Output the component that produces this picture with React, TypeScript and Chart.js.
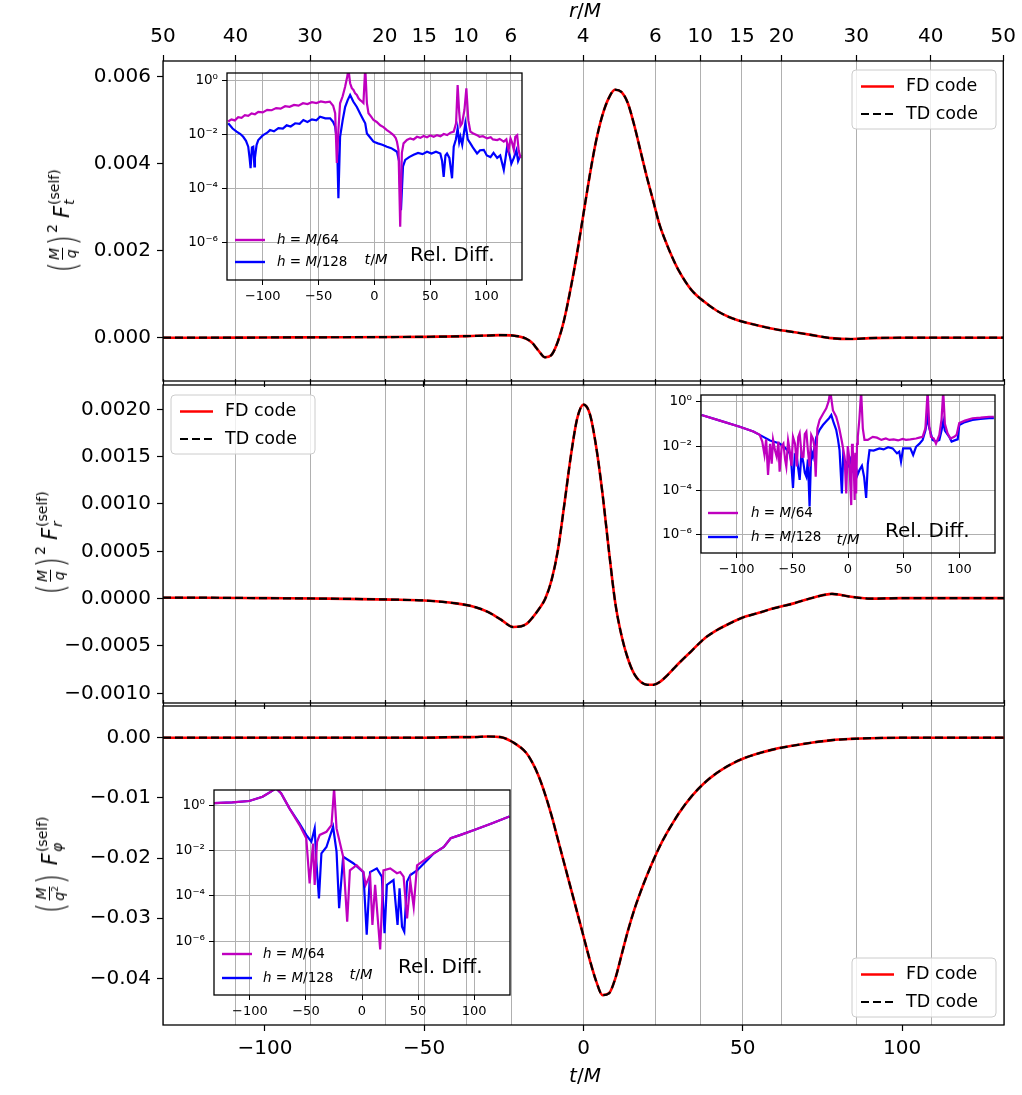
import React, { useEffect, useRef } from "react";
import { Chart, registerables } from "chart.js";

Chart.register(...registerables);

const FONT = "'DejaVu Sans', 'Liberation Sans', sans-serif";
const W = 1022;
const H = 1095;

// ---------------- main panels data (t/M) ----------------
const tMain = [-132, -120, -100, -80, -60, -50, -40, -35, -30, -26, -22, -18, -16, -14, -12, -10, -8, -6, -4, -2, 0, 2, 4, 6, 8, 10, 12, 14, 16, 18, 20, 22, 24, 26, 28, 30, 34, 38, 42, 46, 50, 55, 60, 66, 72, 78, 84, 90, 100, 110, 120, 132];
const ftSelf = [0, 0, 0.000005, 0.00001, 0.000015, 0.00002, 0.00003, 0.00004, 0.00005, 0.00006, 0.00005, -0.00002, -0.00012, -0.0003, -0.00045, -0.0004, -0.0001, 0.0004, 0.0011, 0.0019, 0.0028, 0.0037, 0.0045, 0.0051, 0.0055, 0.0057, 0.00565, 0.0054, 0.0049, 0.0043, 0.0037, 0.00315, 0.0026, 0.0022, 0.00185, 0.00155, 0.0011, 0.00083, 0.00062, 0.00047, 0.00037, 0.00028, 0.0002, 0.00013, 0.00006, -0.00001, -0.00003, -0.00001, 0, 0, 0, 0];
const frSelf = [0.00001, 0.00001, 0.000005, 0, -0.00001, -0.00002, -0.00005, -0.00008, -0.00014, -0.00022, -0.0003, -0.00027, -0.0002, -0.00011, 0, 0.0002, 0.00052, 0.001, 0.0015, 0.0019, 0.00205, 0.00195, 0.0016, 0.0011, 0.0005, -0.00005, -0.0004, -0.00064, -0.0008, -0.00088, -0.00091, -0.00091, -0.00088, -0.00082, -0.00075, -0.00068, -0.00055, -0.00042, -0.00033, -0.00026, -0.0002, -0.00015, -0.0001, -0.00005, 0.00001, 0.00005, 0.00002, 0, 0.000005, 0.000005, 0.000005, 0.000005];
const fphiSelf = [0, 0, 0, 0, 0, 0, 0.0001, 0.0001, 0.0002, 0.0001, -0.0008, -0.0025, -0.0042, -0.0065, -0.0095, -0.013, -0.017, -0.021, -0.025, -0.029, -0.033, -0.037, -0.0405, -0.0428, -0.0425, -0.04, -0.036, -0.032, -0.0285, -0.0255, -0.0228, -0.0203, -0.018, -0.016, -0.0142, -0.0125, -0.0097, -0.0075, -0.0058, -0.0045, -0.0035, -0.0026, -0.0019, -0.0013, -0.0008, -0.0004, -0.0002, -0.00008, 0, 0, 0, 0];

// ticks
const tTickValues = [-100, -50, 0, 50, 100];
const rTickPositions = [-132, -109.2, -85.8, -62.3, -49.9, -36.8, -22.7, 0, 22.7, 36.8, 49.9, 62.3, 85.8, 109.2, 132];
const rTickLabels = ["50", "40", "30", "20", "15", "10", "6", "4", "6", "10", "15", "20", "30", "40", "50"];
const ftTicks = [0, 0.002, 0.004, 0.006];
const frTicks = [-0.001, -0.0005, 0, 0.0005, 0.001, 0.0015, 0.002];
const fphiTicks = [-0.04, -0.03, -0.02, -0.01, 0];
const logTicks = [1e-6, 1e-4, 1e-2, 1];
const logTickLabels = ["10\u207B\u2076", "10\u207B\u2074", "10\u207B\u00B2", "10\u2070"];

// ---------------- inset data (relative differences) ----------------
const topT64 = [
  -131, -128, -125, -122, -119, -116, -113, -110, -107, -104, -100, -96, -92, -88, -84, -80, -76, -72, -68, -64,
  -60, -56, -52, -48, -44, -40, -37, -35.2, -33.7, -32.3, -30.8, -28.5, -26.3, -24.5, -23.3, -21.8, -20.3, -18.8, -17.3, -15.8,
  -14.3, -12.8, -11.3, -9.9, -8.3, -6.8, -5.4, -3, -0.9, 2, 5.1, 8, 11.1, 14, 17, 19, 20.1, 21.5, 23, 24.5,
  26, 29, 32, 35, 38, 41, 44, 47, 50, 53, 56, 59, 62, 65, 68, 70.9, 73, 74.4, 75.8, 76.9,
  78.4, 80.5, 82.2, 84, 85.8, 88, 91.8, 94, 97, 100.8, 104, 106, 109.8, 112, 115.7, 118, 120, 121.7, 123, 124.7,
  126, 127.7, 129, 130.7,
];
const topRel64 = [
  0.029, 0.035, 0.032, 0.042, 0.04, 0.05, 0.047, 0.058, 0.054, 0.066, 0.063, 0.079, 0.076, 0.091, 0.087, 0.107, 0.102, 0.12, 0.112, 0.138,
  0.129, 0.151, 0.141, 0.162, 0.148, 0.158, 0.112, 0.059, 8.5e-4, 0.014, 0.138, 0.25, 0.56, 1.26, 2.5, 0.76, 0.5, 0.43, 0.32, 0.28,
  0.21, 0.18, 0.16, 0.14, 3, 0.14, 0.059, 0.044, 0.033, 0.028, 0.021, 0.018, 0.014, 0.0115, 0.0091, 0.0071, 0.0052, 0.0025, 3.7e-6, 0.002,
  0.0045, 0.006, 0.0069, 0.0063, 0.0079, 0.0072, 0.0085, 0.0076, 0.0089, 0.0079, 0.0091, 0.0083, 0.01, 0.0091, 0.0112, 0.0123, 0.025, 0.65, 0.063, 0.02,
  0.025, 0.079, 0.49, 0.032, 0.0123, 0.0107, 0.0091, 0.0079, 0.0083, 0.0069, 0.0076, 0.0063, 0.006, 0.0066, 0.0052, 0.0063, 0.0025, 0.0069, 0.005, 0.0026,
  0.0079, 0.0091, 0.0025, 0.0013,
];
const topT128 = [
  -130.9, -127, -123.4, -120, -117.5, -115, -113, -111.8, -110.9, -109.7, -108.5, -107.5, -107, -105.5, -104, -100, -96, -93.5, -90, -86,
  -82, -78.6, -75, -71, -67, -63.7, -60, -56, -52, -48.7, -44, -39.7, -37, -35.2, -33.5, -32.3, -30.8, -28.5, -26.3, -24,
  -21.8, -19, -15.8, -12.8, -9.9, -8.3, -6.8, -3.5, -0.9, 3, 7, 11.1, 15, 18, 20.1, 22, 23.7, 25.5, 27.5, 31,
  35, 39, 43, 47, 51, 55, 58.9, 60.5, 61.9, 63.5, 64.9, 67, 69.4, 70.9, 72.8, 74.4, 75.8, 76.9, 78.5, 81.3,
  83.5, 85.8, 88, 91.8, 94.5, 97.8, 100.5, 103.8, 106.5, 109.8, 112.5, 115.7, 117.3, 118.7, 121, 122.5, 124.7, 127, 128.5, 130.7,
];
const topRel128 = [
  0.025, 0.016, 0.0123, 0.01, 0.0079, 0.0056, 0.0034, 0.0013, 5.4e-4, 0.0032, 0.0034, 6.3e-4, 0.0013, 0.004, 0.006, 0.0089, 0.0112, 0.014, 0.0126, 0.0166,
  0.0158, 0.021, 0.019, 0.025, 0.024, 0.033, 0.028, 0.035, 0.032, 0.044, 0.038, 0.038, 0.028, 0.019, 0.005, 4.2e-5, 0.0079, 0.032, 0.1, 0.18,
  0.28, 0.16, 0.1, 0.056, 0.033, 0.025, 0.0105, 0.0071, 0.0052, 0.0045, 0.004, 0.0034, 0.003, 0.0025, 0.0022, 0.001, 1.5e-5, 6.3e-4, 0.0011, 0.0014,
  0.0017, 0.002, 0.0018, 0.0022, 0.0019, 0.0022, 0.0019, 0.001, 2.6e-4, 0.0016, 0.0019, 0.0013, 2.3e-4, 0.0034, 0.0063, 0.016, 0.005, 0.0079, 0.004, 0.025,
  0.0063, 0.0045, 0.0032, 0.0019, 0.0025, 0.0026, 0.0016, 0.0014, 0.002, 0.0013, 0.0016, 4.7e-4, 0.0013, 0.0034, 0.0016, 8e-4, 0.0013, 0.0025, 0.001, 0.0017,
];

const midT64 = [
  -131.5, -115, -97.2, -85, -79.3, -77, -75, -73.5, -71.8, -70, -68.5, -67.3, -65.5, -64, -62.5, -61.4, -59.5, -58, -56.5, -55.4,
  -53.8, -52.4, -50.8, -49.4, -47.5, -46, -44.7, -43.4, -41.5, -40, -38.8, -37.4, -36, -34.5, -33, -31.5, -30.2, -29, -27.5, -25.5,
  -22.5, -19.5, -17.5, -15.9, -13.5, -10.6, -9, -7.6, -5.5, -3.1, -1.6, -0.2, 1, 2, 2.9, 3.6, 4.3, 5.2, 6, 6.6,
  7.3, 8.1, 8.8, 10.2, 11.8, 13.3, 14.8, 17.8, 22.2, 26, 30, 34, 37.2, 41, 45, 49, 52.1, 56, 61.1, 64,
  67, 69.5, 71.5, 73, 74.5, 77, 79, 82, 84, 85.5, 87, 89.4, 92, 95.4, 97.5, 99.9, 105, 111.8, 119, 126.7,
  131,
];
const midRel64 = [
  0.25, 0.14, 0.074, 0.045, 0.032, 0.016, 0.004, 0.02, 5e-4, 0.0126, 0.0016, 0.019, 0.0063, 0.0033, 0.016, 7e-4, 0.01, 0.013, 0.0025, 0.0012,
  0.018, 0.0066, 0.0013, 0.026, 0.0126, 0.0012, 0.025, 0.038, 0.0032, 0.0033, 0.035, 0.045, 0.0063, 0.0012, 0.032, 0.022, 0.01, 4.2e-4, 0.063, 0.15,
  0.28, 0.5, 1, 3, 0.4, 0.21, 0.11, 0.054, 0.016, 0.0033, 7.4e-5, 0.01, 0.0033, 2.5e-4, 2.2e-5, 0.0126, 0.0066, 0.001, 3.7e-5, 0.005,
  7.4e-5, 0.0126, 0.026, 0.16, 3, 0.063, 0.019, 0.019, 0.026, 0.024, 0.019, 0.022, 0.019, 0.02, 0.018, 0.021, 0.019, 0.02, 0.022, 0.024,
  0.026, 0.063, 3, 0.079, 0.026, 0.022, 0.013, 0.032, 0.16, 3, 0.1, 0.038, 0.022, 0.026, 0.032, 0.11, 0.14, 0.18, 0.19, 0.21,
  0.21,
];
const midT128 = [
  -131.5, -115, -97.2, -85, -79.3, -70, -61.4, -56, -52.4, -51, -49.4, -47.8, -46, -44.7, -43.4, -41.8, -40, -38.8, -37.4, -36,
  -34.5, -33, -31.5, -28.5, -25.5, -22.5, -19.5, -17, -15, -12.8, -10.6, -9, -7.6, -5.5, -4.3, -3.1, 0, 2, 4.3, 6.5,
  8.5, 10.3, 12.5, 14.5, 16.3, 17.8, 19.3, 23, 28.2, 32, 36, 40.1, 44, 46, 47.6, 49.5, 52.1, 56, 58.5, 61.1,
  64, 67, 69.5, 71.5, 73, 76, 79, 82, 84, 85.5, 87, 90.9, 93, 96.9, 98.5, 99.9, 105, 111.8, 119, 126.7,
  131,
];
const midRel128 = [
  0.25, 0.14, 0.074, 0.045, 0.032, 0.018, 0.013, 0.0079, 0.0047, 0.002, 1.3e-4, 0.004, 0.0033, 0.001, 3e-4, 0.005, 0.0017, 6.3e-4, 4.2e-4, 0.0025,
  1.9e-5, 0.0063, 0.0033, 0.025, 0.054, 0.089, 0.13, 0.18, 0.25, 0.11, 0.054, 0.02, 0.0066, 7.4e-5, 0.004, 0.0024, 0.0013, 0.0025, 8.4e-4, 0.0016,
  5e-4, 8.4e-4, 0.0013, 4e-4, 4.6e-5, 0.0016, 0.0066, 0.0063, 0.0079, 0.0071, 0.0089, 0.0079, 0.0047, 0.0056, 0.002, 0.0079, 0.0079, 0.0079, 0.004, 0.0093,
  0.0126, 0.019, 0.05, 0.21, 0.063, 0.019, 0.016, 0.019, 0.05, 0.13, 0.05, 0.026, 0.016, 0.019, 0.02, 0.089, 0.12, 0.15, 0.166, 0.18,
  0.18,
];

const botT64 = [-132, -115.6, -100.6, -88.7, -81.2, -76.7, -72.2, -64.7, -55.7, -49.7, -46.7, -43.7, -42.2, -40.1, -37.7, -31.7, -27.2, -24.9, -22.7, -16.8, -13.2, -10.8, -4.8, 1.2, 3.3, 7.2, 9.3, 11.7, 16.2, 19.1, 25.2, 31.2, 34.1, 37.1, 40.2, 43.1, 46.1, 49.1, 58.1, 64.1, 73, 79.1, 88, 100, 115, 131.4];
const botRel64 = [1.2, 1.3, 1.5, 2.3, 3.9, 5.5, 3.3, 7.1e-1, 1.3e-1, 3.4e-2, 3.5e-4, 2e-2, 3e-4, 2.4e-2, 4.8e-2, 6.6e-2, 1.3e-1, 5.5, 9.3e-2, 5.2e-3, 7.1e-6, 1.3e-3, 2.2e-3, 1.1e-3, 3e-4, 8.1e-4, 5.1e-6, 3e-4, 4.3e-7, 1.3e-3, 1.6e-3, 9.8e-4, 1.1e-3, 6.9e-4, 1e-5, 4.2e-4, 3.2e-5, 2.2e-3, 4.5e-3, 7.4e-3, 1.4e-2, 3.4e-2, 4.8e-2, 7.9e-2, 1.5e-1, 3.1e-1];
const botT128 = [-132, -115.6, -100.6, -88.7, -81.2, -76.7, -72.2, -64.7, -55.7, -49.7, -45.2, -42.2, -40.7, -38.4, -36.2, -31.7, -25.8, -22.7, -20.4, -16.8, -7.8, 1.2, 4.2, 7.2, 13.2, 17.7, 20.1, 22.2, 28.1, 31.7, 33.5, 35.7, 37.7, 40.2, 43.1, 49.1, 58.1, 64.1, 73, 79.1, 88, 100, 115, 131.4];
const botRel128 = [1.2, 1.3, 1.5, 2.3, 3.9, 5.5, 3.3, 7.1e-1, 1.5e-1, 4.8e-2, 2.4e-2, 9.3e-2, 3.2e-3, 7.6e-5, 7.4e-3, 1.4e-2, 1.1e-1, 8.7e-3, 2.8e-5, 5.2e-3, 2.7e-3, 1.1e-3, 1.9e-6, 1.1e-3, 1.6e-3, 6.9e-4, 2.2e-6, 3e-4, 4.9e-4, 5.1e-6, 2.1e-4, 4.3e-6, 2.6e-6, 4.2e-4, 8.1e-4, 1.3e-3, 3.7e-3, 7.4e-3, 1.4e-2, 3.4e-2, 4.8e-2, 7.9e-2, 1.5e-1, 3.1e-1];

// ---------------- helpers ----------------
const xy = (xs: number[], ys: number[]) => xs.map((x, i) => ({ x, y: ys[i] }));
const fmtT = (v: number) => (v < 0 ? "\u2212" + Math.abs(v) : String(v));
const fmtFixed = (d: number) => (v: number) => {
  if (Math.abs(v) < 1e-12) return (0).toFixed(d);
  return (v < 0 ? "\u2212" : "") + Math.abs(v).toFixed(d);
};

type Seg = [string, boolean];
function drawSegs(ctx: CanvasRenderingContext2D, segs: Seg[], x: number, y: number, size: number, align: "left" | "center" = "left") {
  const fontOf = (it: boolean) => `${it ? "italic " : ""}${size}px ${FONT}`;
  const widths = segs.map(([s, it]) => {
    ctx.font = fontOf(it);
    return ctx.measureText(s).width;
  });
  const total = widths.reduce((a, b) => a + b, 0);
  let cx = align === "center" ? x - total / 2 : x;
  ctx.textAlign = "left";
  ctx.textBaseline = "middle";
  ctx.fillStyle = "#000";
  segs.forEach(([s, it], i) => {
    ctx.font = fontOf(it);
    ctx.fillText(s, cx, y);
    cx += widths[i];
  });
}

function drawFrame(chart: any) {
  const { ctx, chartArea: a } = chart;
  ctx.save();
  ctx.strokeStyle = "#000";
  ctx.lineWidth = 1.3;
  ctx.strokeRect(a.left, a.top, a.right - a.left, a.bottom - a.top);
  ctx.restore();
}

function drawMainLegend(ctx: CanvasRenderingContext2D, x: number, y: number) {
  const w = 144, h = 59;
  ctx.save();
  ctx.beginPath();
  (ctx as any).roundRect(x, y, w, h, 4);
  ctx.fillStyle = "rgba(255,255,255,0.8)";
  ctx.fill();
  ctx.strokeStyle = "#cccccc";
  ctx.lineWidth = 1;
  ctx.stroke();
  const r1 = y + 16.5, r2 = y + 44;
  ctx.lineWidth = 2.5;
  ctx.strokeStyle = "#ff0000";
  ctx.beginPath(); ctx.moveTo(x + 9, r1); ctx.lineTo(x + 42, r1); ctx.stroke();
  ctx.strokeStyle = "#000";
  ctx.lineWidth = 2.2;
  ctx.setLineDash([8, 4]);
  ctx.beginPath(); ctx.moveTo(x + 9, r2); ctx.lineTo(x + 42, r2); ctx.stroke();
  ctx.setLineDash([]);
  ctx.fillStyle = "#000";
  ctx.font = `17.5px ${FONT}`;
  ctx.textBaseline = "middle";
  ctx.textAlign = "left";
  ctx.fillText("FD code", x + 54, r1);
  ctx.fillText("TD code", x + 54, r2);
  ctx.restore();
}

const panels = [
  { values: ftSelf, top: 61, bottom: 381, ymin: -0.000995, ymax: 0.00636, ticks: ftTicks, dec: 3, showR: true, showT: false, legend: { x: 852, y: 70 } },
  { values: frSelf, top: 385, bottom: 703, ymin: -0.0011025, ymax: 0.002257, ticks: frTicks, dec: 4, showR: false, showT: false, legend: { x: 171, y: 395 } },
  { values: fphiSelf, top: 706, bottom: 1025, ymin: -0.04776, ymax: 0.00527, ticks: fphiTicks, dec: 2, showR: false, showT: true, legend: { x: 852, y: 958 } },
];

const PLOT_LEFT = 163;
const PLOT_RIGHT = 1004;

function mainConfig(p: any, idx: number): any {
  const tickFont = { family: FONT, size: 20 };
  return {
    type: "line",
    data: {
      datasets: [
        { label: "TD code", data: xy(tMain, p.values), xAxisID: "x", yAxisID: "y", borderColor: "#000000", borderWidth: 2.2, borderDash: [8, 4], pointRadius: 0, cubicInterpolationMode: "monotone", fill: false },
        { label: "FD code", data: xy(tMain, p.values), xAxisID: "x", yAxisID: "y", borderColor: "#ff0000", borderWidth: 2.6, pointRadius: 0, cubicInterpolationMode: "monotone", fill: false },
      ],
    },
    options: {
      responsive: false,
      animation: false,
      events: [],
      layout: { padding: { left: 0, right: W - PLOT_RIGHT, top: 0, bottom: 0 } },
      plugins: { legend: { display: false }, tooltip: { enabled: false } },
      scales: {
        x: {
          type: "linear", position: "bottom", min: -132, max: 132,
          afterFit: (s: any) => { s.height = H - p.bottom; },
          afterBuildTicks: (s: any) => { s.ticks = tTickValues.map((v) => ({ value: v })); },
          grid: { drawOnChartArea: false, drawTicks: true, tickLength: 6, tickColor: "#000", tickWidth: 1.2 },
          border: { display: false },
          ticks: { display: p.showT, autoSkip: false, maxRotation: 0, minRotation: 0, padding: 6, color: "#000", font: tickFont, callback: (v: number) => fmtT(v) },
        },
        xr: {
          type: "linear", position: "top", min: -132, max: 132,
          afterFit: (s: any) => { s.height = p.top; },
          afterBuildTicks: (s: any) => { s.ticks = rTickPositions.map((v) => ({ value: v })); },
          grid: { drawOnChartArea: true, color: "#b0b0b0", lineWidth: 1, drawTicks: true, tickLength: 6, tickColor: "#000", tickWidth: 1.2 },
          border: { display: false },
          ticks: { display: p.showR, autoSkip: false, maxRotation: 0, minRotation: 0, padding: 6, color: "#000", font: tickFont, callback: (_v: number, i: number) => rTickLabels[i] ?? "" },
        },
        y: {
          type: "linear", position: "left", min: p.ymin, max: p.ymax,
          afterFit: (s: any) => { s.width = PLOT_LEFT; },
          afterBuildTicks: (s: any) => { s.ticks = p.ticks.map((v: number) => ({ value: v })); },
          grid: { drawOnChartArea: false, drawTicks: true, tickLength: 6, tickColor: "#000", tickWidth: 1.2 },
          border: { display: false },
          ticks: { autoSkip: false, padding: 6, color: "#000", font: tickFont, callback: fmtFixed(p.dec) },
        },
      },
    },
    plugins: [
      {
        id: "deco" + idx,
        afterDraw: (chart: any) => {
          drawFrame(chart);
          const ctx = chart.ctx;
          drawMainLegend(ctx, p.legend.x, p.legend.y);
          if (p.showR) {
            ctx.save();
            drawSegs(ctx, [["r", true], ["/", false], ["M", true]], 585, 12, 20, "center");
            ctx.restore();
          }
          if (p.showT) {
            ctx.save();
            drawSegs(ctx, [["t", true], ["/", false], ["M", true]], 585, 1077, 20, "center");
            ctx.restore();
          }
        },
      },
    ],
  };
}

const insets = [
  { t64: topT64, v64: topRel64, t128: topT128, v128: topRel128, frame: { l: 227, t: 73, r: 522, b: 280 }, ymin: 3.92e-8, ymax: 1.82, legend: { hx: 235, ry1: 240, ry2: 262, tx: 277 }, tm: { x: 376, y: 260 }, rd: { x: 410, y: 256 } },
  { t64: midT64, v64: midRel64, t128: midT128, v128: midRel128, frame: { l: 701, t: 395, r: 995, b: 553 }, ymin: 1.53e-7, ymax: 2.0, legend: { hx: 708, ry1: 513, ry2: 537, tx: 751 }, tm: { x: 848, y: 540 }, rd: { x: 885, y: 532 } },
  { t64: botT64, v64: botRel64, t128: botT128, v128: botRel128, frame: { l: 214, t: 790, r: 510, b: 995 }, ymin: 4.16e-9, ymax: 4.59, legend: { hx: 222, ry1: 954, ry2: 978, tx: 263 }, tm: { x: 361, y: 975 }, rd: { x: 398, y: 968 } },
];

function insetConfig(s: any, idx: number): any {
  const f = s.frame;
  const tickFont = { family: FONT, size: 13 };
  const grid = { drawOnChartArea: true, color: "#b0b0b0", lineWidth: 1, drawTicks: true, tickLength: 5, tickColor: "#000", tickWidth: 1 };
  return {
    type: "line",
    data: {
      datasets: [
        { label: "h = M/64", data: xy(s.t64, s.v64), borderColor: "#bf00bf", borderWidth: 2.2, pointRadius: 0, tension: 0, fill: false },
        { label: "h = M/128", data: xy(s.t128, s.v128), borderColor: "#0000ff", borderWidth: 2.2, pointRadius: 0, tension: 0, fill: false },
      ],
    },
    options: {
      responsive: false,
      animation: false,
      events: [],
      layout: { padding: { left: 0, top: f.t, right: W - f.r, bottom: 0 } },
      plugins: { legend: { display: false }, tooltip: { enabled: false } },
      scales: {
        x: {
          type: "linear", position: "bottom", min: -132, max: 132,
          afterFit: (sc: any) => { sc.height = H - f.b; },
          afterBuildTicks: (sc: any) => { sc.ticks = tTickValues.map((v) => ({ value: v })); },
          grid, border: { display: false },
          ticks: { autoSkip: false, maxRotation: 0, minRotation: 0, padding: 4, color: "#000", font: tickFont, callback: (v: number) => fmtT(v) },
        },
        y: {
          type: "logarithmic", position: "left", min: s.ymin, max: s.ymax,
          afterFit: (sc: any) => { sc.width = f.l; },
          afterBuildTicks: (sc: any) => { sc.ticks = logTicks.map((v) => ({ value: v })); },
          grid, border: { display: false },
          ticks: { autoSkip: false, padding: 4, color: "#000", font: { family: FONT, size: 13.5 }, callback: (_v: number, i: number) => logTickLabels[i] ?? "" },
        },
      },
    },
    plugins: [
      {
        id: "insetdeco" + idx,
        afterDraw: (chart: any) => {
          drawFrame(chart);
          const ctx: CanvasRenderingContext2D = chart.ctx;
          const L = s.legend;
          ctx.save();
          ctx.lineWidth = 2.4;
          ctx.strokeStyle = "#bf00bf";
          ctx.beginPath(); ctx.moveTo(L.hx, L.ry1); ctx.lineTo(L.hx + 30, L.ry1); ctx.stroke();
          ctx.strokeStyle = "#0000ff";
          ctx.beginPath(); ctx.moveTo(L.hx, L.ry2); ctx.lineTo(L.hx + 30, L.ry2); ctx.stroke();
          drawSegs(ctx, [["h", true], [" = ", false], ["M", true], ["/64", false]], L.tx, L.ry1, 13.5);
          drawSegs(ctx, [["h", true], [" = ", false], ["M", true], ["/128", false]], L.tx, L.ry2, 13.5);
          drawSegs(ctx, [["t", true], ["/", false], ["M", true]], s.tm.x, s.tm.y, 14.5, "center");
          drawSegs(ctx, [["Rel. Diff.", false]], s.rd.x, s.rd.y, 20);
          ctx.restore();
        },
      },
    ],
  };
}

function ChartLayer({ make }: { make: () => any }) {
  const ref = useRef<HTMLCanvasElement>(null);
  useEffect(() => {
    const chart = new Chart(ref.current as HTMLCanvasElement, make());
    return () => chart.destroy();
  }, []);
  return <canvas ref={ref} width={W} height={H} style={{ position: "absolute", left: 0, top: 0, width: W, height: H }} />;
}

function YTitle({ x, y, sub, q2 }: { x: number; y: number; sub: string; q2?: boolean }) {
  const paren: React.CSSProperties = { fontSize: 38, lineHeight: "40px", fontWeight: 300, display: "inline-block", transform: "scaleX(0.7)" };
  return (
    <div
      style={{
        position: "absolute", left: x, top: y, transform: "translate(-50%, -50%) rotate(-90deg)",
        display: "flex", alignItems: "center", whiteSpace: "nowrap", fontFamily: FONT, fontSize: 20, color: "#000", lineHeight: 1,
      }}
    >
      <span style={paren}>(</span>
      <span style={{ display: "inline-flex", flexDirection: "column", alignItems: "center", fontSize: 14 }}>
        <span style={{ fontStyle: "italic", paddingBottom: 1 }}>M</span>
        <span style={{ borderTop: "1px solid #000", alignSelf: "stretch", textAlign: "center", paddingTop: 1 }}>
          <i>q</i>
          {q2 ? <span style={{ fontSize: 9, verticalAlign: "super" }}>2</span> : null}
        </span>
      </span>
      <span style={paren}>)</span>
      {!q2 ? <span style={{ fontSize: 14, alignSelf: "flex-start", marginTop: 3 }}>2</span> : null}
      <span style={{ fontStyle: "italic", marginLeft: 6, fontSize: 21 }}>F</span>
      <span style={{ display: "inline-flex", flexDirection: "column", fontSize: 14, marginLeft: 1, lineHeight: 1.1 }}>
        <span>(self)</span>
        <span style={{ fontStyle: "italic" }}>{sub}</span>
      </span>
    </div>
  );
}

export default function App() {
  return (
    <div style={{ position: "absolute", left: 0, top: 0, width: W, height: H, background: "#ffffff", overflow: "hidden" }}>
      {panels.map((p, i) => (
        <ChartLayer key={"m" + i} make={() => mainConfig(p, i)} />
      ))}
      {insets.map((s, i) => (
        <ChartLayer key={"i" + i} make={() => insetConfig(s, i)} />
      ))}
      <YTitle x={62} y={222} sub="t" />
      <YTitle x={50} y={544} sub="r" />
      <YTitle x={50} y={866} sub={"\u03C6"} q2 />
    </div>
  );
}
